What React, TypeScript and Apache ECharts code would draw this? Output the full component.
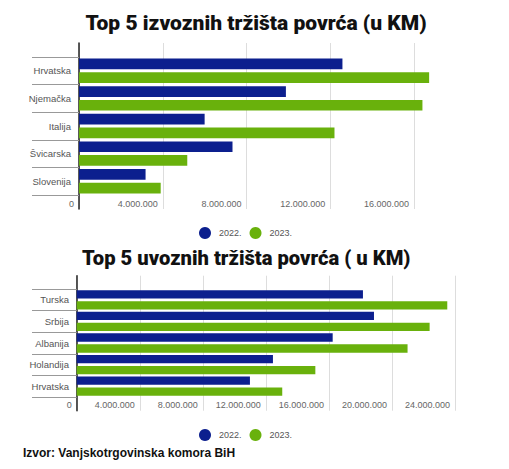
import React, { useEffect, useRef } from "react";
import * as echarts from "echarts";

const exportCategories = ["Hrvatska", "Njemačka", "Italija", "Švicarska", "Slovenija"];
const export2022 = [12580000, 9880000, 6000000, 7330000, 3180000];
const export2023 = [16720000, 16400000, 12200000, 5170000, 3900000];

const importCategories = ["Turska", "Srbija", "Albanija", "Holandija", "Hrvatska"];
const import2022 = [18160000, 18860000, 16240000, 12450000, 10990000];
const import2023 = [23510000, 22390000, 20990000, 15140000, 13040000];

const seriesNames = ["2022.", "2023."];
const exportTitle = "Top 5 izvoznih tržišta povrća (u KM)";
const importTitle = "Top 5 uvoznih tržišta povrća ( u KM)";
const sourceText = "Izvor: Vanjskotrgovinska komora BiH";

const BLUE = "#0c1f8e";
const GREEN = "#69b10c";
const FONT = "'Liberation Sans', Arial, sans-serif";
const TITLE_FONT = "Roboto, 'Liberation Sans', sans-serif";

const fmt = (v: number) => String(v).replace(/\B(?=(\d{3})+(?!\d))/g, ".");

export default function App() {
  const ref = useRef<HTMLDivElement>(null);
  useEffect(() => {
    if (!ref.current) return;
    const chart = echarts.init(ref.current, undefined, { renderer: "svg" });

    const frameX = (gridIndex: number, max: number, showMax: boolean) => ({
      type: "value",
      gridIndex,
      min: 0,
      max,
      interval: 4000000,
      position: "bottom",
      axisLine: { show: false },
      axisTick: { show: false },
      splitLine: { show: true, showMaxLine: showMax, lineStyle: { color: "#dddddd", width: 1 } },
      axisLabel: {
        inside: true,
        margin: 1,
        align: "right",
        padding: [0, 5, 0, 0],
        fontSize: 9,
        color: "#666",
        fontFamily: FONT,
        showMaxLabel: showMax,
        formatter: (v: number) => fmt(v),
      },
    });
    const hiddenX = (gridIndex: number, max: number) => ({
      type: "value",
      gridIndex,
      min: 0,
      max,
      show: false,
    });
    const catY = (gridIndex: number, data: string[], tickLen: number, margin: number) => ({
      type: "category",
      gridIndex,
      data,
      inverse: true,
      axisLine: { show: false },
      axisTick: { show: true, length: tickLen, interval: 0, lineStyle: { color: "#999", width: 1 } },
      axisLabel: { interval: 0, margin, fontSize: 9.5, color: "#555", fontFamily: FONT },
      splitLine: { show: false },
    });
    const frameY = (gridIndex: number) => ({
      type: "value",
      gridIndex,
      min: 0,
      max: 1,
      axisLine: { show: true, onZero: false, lineStyle: { color: "#222", width: 1.5 } },
      axisTick: { show: false },
      axisLabel: { show: false },
      splitLine: { show: false },
    });
    const legend = (top: number) => ({
      data: seriesNames,
      left: 199,
      top,
      icon: "circle",
      itemWidth: 12,
      itemHeight: 12,
      itemGap: 8,
      padding: 0,
      textStyle: { fontSize: 9, color: "#555", fontFamily: FONT, padding: [0, 0, 0, 3] },
    });

    chart.setOption({
      animation: false,
      backgroundColor: "#ffffff",
      grid: [
        { left: 79, top: 57, width: 356, height: 138 },
        { left: 79, top: 43, width: 356, height: 166 },
        { left: 76.7, top: 289, width: 378.3, height: 108 },
        { left: 76.7, top: 275.7, width: 378.3, height: 135 },
      ],
      xAxis: [
        hiddenX(0, 17000000),
        frameX(1, 17000000, false),
        hiddenX(2, 24000000),
        frameX(3, 24000000, true),
      ],
      yAxis: [
        catY(0, exportCategories, 47, 8),
        frameY(1),
        catY(2, importCategories, 44.7, 7.7),
        frameY(3),
      ],
      legend: [legend(227), legend(429)],
      series: [
        { type: "bar", name: seriesNames[0], xAxisIndex: 0, yAxisIndex: 0, data: export2022, barWidth: 10.7, barGap: "28%", itemStyle: { color: BLUE } },
        { type: "bar", name: seriesNames[1], xAxisIndex: 0, yAxisIndex: 0, data: export2023, barWidth: 10.7, barGap: "28%", itemStyle: { color: GREEN } },
        { type: "bar", name: seriesNames[0], xAxisIndex: 2, yAxisIndex: 2, data: import2022, barWidth: 8.3, barGap: "32%", itemStyle: { color: BLUE } },
        { type: "bar", name: seriesNames[1], xAxisIndex: 2, yAxisIndex: 2, data: import2023, barWidth: 8.3, barGap: "32%", itemStyle: { color: GREEN } },
      ],
      graphic: [
        {
          type: "text",
          x: 256,
          y: 23,
          style: { text: exportTitle, fontSize: 21, fontWeight: 900, fontFamily: TITLE_FONT, fill: "#111", textAlign: "center", textVerticalAlign: "middle" },
        },
        {
          type: "text",
          x: 246.3,
          y: 258,
          style: { text: importTitle, fontSize: 20.2, fontWeight: 900, fontFamily: TITLE_FONT, fill: "#111", textAlign: "center", textVerticalAlign: "middle" },
        },
        {
          type: "text",
          x: 23,
          y: 453,
          style: { text: sourceText, fontSize: 12, fontWeight: "bold", fontFamily: FONT, fill: "#111", textAlign: "left", textVerticalAlign: "middle" },
        },
      ],
    });
    return () => chart.dispose();
  }, []);
  return <div ref={ref} style={{ position: "fixed", left: 0, top: 0, width: 509, height: 469 }} />;
}
